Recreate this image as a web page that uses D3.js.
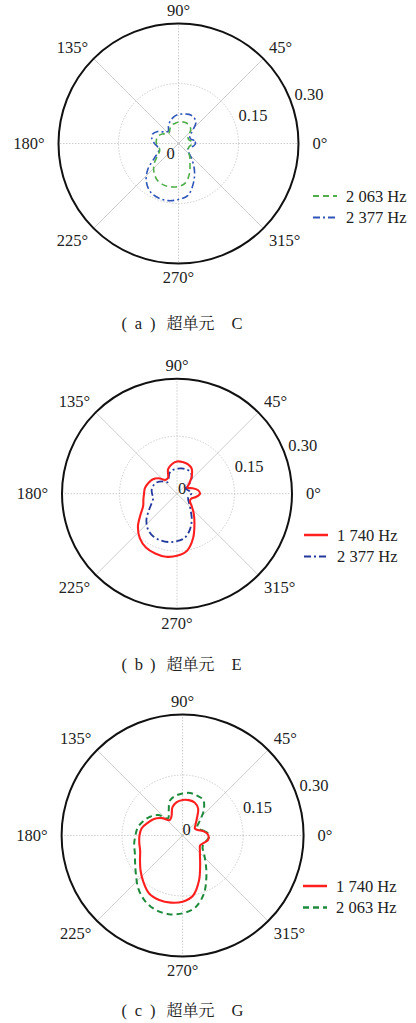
<!DOCTYPE html>
<html>
<head>
<meta charset="utf-8">
<script src="https://cdn.jsdelivr.net/npm/d3@7"></script>
<style>
  html, body { margin: 0; padding: 0; background: #fff; }
  svg { display: block; }
</style>
</head>
<body>
<svg id="chart" width="416" height="1023"></svg>
<script>
// ---------- data ----------
const angles = [0,10,20,30,40,50,60,70,80,90,100,110,120,130,140,150,160,170,
                180,190,200,210,220,230,240,250,260,270,280,290,300,310,320,330,340,350];

// (a) super-cell C
const cellC_2063 = [0.035,0.0325,0.0275,0.0275,0.035,0.0475,0.0525,0.055,0.055,0.054,0.051,0.049,
                    0.0425,0.036,0.0375,0.0475,0.054,0.056,0.055,0.050,0.050,0.060,0.080,0.095,
                    0.106,0.110,0.110,0.1075,0.100,0.080,0.0575,0.044,0.0325,0.0275,0.0275,0.030];
const cellC_2377 = [0.0425,0.040,0.0325,0.0325,0.0425,0.0675,0.076,0.0775,0.075,0.0725,0.0675,0.060,
                    0.050,0.040,0.045,0.060,0.069,0.0675,0.060,0.0525,0.0525,0.0675,0.100,0.125,
                    0.140,0.145,0.145,0.140,0.1325,0.1075,0.080,0.0525,0.0325,0.0275,0.030,0.0375];
// (b) super-cell E
const cellE_1740 = [0.060,0.055,0.042,0.031,0.042,0.060,0.076,0.082,0.084,0.084,0.078,0.068,
                    0.047,0.047,0.063,0.074,0.080,0.085,0.086,0.089,0.094,0.110,0.133,0.151,
                    0.162,0.166,0.167,0.162,0.151,0.123,0.091,0.068,0.050,0.039,0.039,0.050];
const cellE_2377 = [0.037,0.034,0.029,0.027,0.044,0.060,0.067,0.068,0.067,0.065,0.063,0.057,
                    0.044,0.039,0.050,0.060,0.065,0.067,0.065,0.063,0.070,0.084,0.104,0.119,
                    0.127,0.129,0.128,0.124,0.117,0.099,0.077,0.055,0.042,0.034,0.031,0.033];
// (c) super-cell G
const cellG_1740 = [0.064,0.055,0.040,0.035,0.042,0.055,0.077,0.087,0.089,0.088,0.084,0.074,
                    0.055,0.050,0.067,0.082,0.092,0.103,0.107,0.109,0.112,0.122,0.136,0.151,
                    0.166,0.170,0.169,0.164,0.151,0.119,0.087,0.067,0.056,0.050,0.055,0.064];
const cellG_2063 = [0.067,0.057,0.045,0.042,0.055,0.082,0.102,0.105,0.107,0.104,0.100,0.092,
                    0.069,0.056,0.079,0.093,0.104,0.113,0.117,0.122,0.126,0.136,0.151,0.171,
                    0.187,0.196,0.198,0.193,0.181,0.154,0.118,0.089,0.069,0.057,0.057,0.062];

const rTicks = [0, 0.15, 0.30];
const rTickLabels = ["0", "0.15", "0.30"];
const angleTicks = [0, 45, 90, 135, 180, 225, 270, 315];
const angleTickLabels = ["0°", "45°", "90°", "135°", "180°", "225°", "270°", "315°"];

const captionLetters = ["a", "b", "c"];
const captionCells = ["C", "E", "G"];
const captionWord = "超单元";

// ---------- styles ----------
const styles = {
  green1: { color: "#4fae4a", dash: "6,4", width: 1.6 },
  blue1:  { color: "#2f55b8", dash: "7,3,2,3", width: 1.6 },
  red:    { color: "#ff1f1f", dash: null, width: 2.1 },
  blue2:  { color: "#24389c", dash: "7,3,2,3", width: 1.8 },
  green2: { color: "#1e8a3c", dash: "6,4", width: 2.0 }
};

const panels = [
  { cx: 178.5, cy: 143.5, R: 120, legX: 313, legY: 196, capY: 329, zdx: -12, zdy: 15,
    series: [ {name: "2 063 Hz", values: cellC_2063, st: styles.green1},
              {name: "2 377 Hz", values: cellC_2377, st: styles.blue1} ] },
  { cx: 177, cy: 493.7, R: 115, legX: 304, legY: 535, capY: 670, zdx: 1, zdy: 0,
    series: [ {name: "1 740 Hz", values: cellE_1740, st: styles.red},
              {name: "2 377 Hz", values: cellE_2377, st: styles.blue2} ] },
  { cx: 182.6, cy: 835.5, R: 121, legX: 303, legY: 886, capY: 1016, zdx: 0, zdy: -1,
    series: [ {name: "1 740 Hz", values: cellG_1740, st: styles.red},
              {name: "2 063 Hz", values: cellG_2063, st: styles.green2} ] }
];

const svg = d3.select("#chart");
const serif = "Liberation Serif";
const cjk = "Noto Serif CJK SC";
const textColor = "#222";
const gridColor = "#c8c8c8";
const rad = d => d * Math.PI / 180;

panels.forEach((p, i) => {
  const g = svg.append("g").attr("transform", `translate(${p.cx},${p.cy})`);
  const r = d3.scaleLinear().domain([0, 0.30]).range([0, p.R]);

  g.selectAll("circle.grid").data(rTicks.filter(t => t > 0 && t < 0.30)).join("circle")
    .attr("r", d => r(d)).attr("fill", "none")
    .attr("stroke", gridColor).attr("stroke-width", 0.9).attr("stroke-dasharray", "1.5,1.5");

  g.selectAll("line.spoke").data(angleTicks).join("line")
    .attr("x1", 0).attr("y1", 0)
    .attr("x2", d => r(0.30) * Math.cos(rad(d)))
    .attr("y2", d => -r(0.30) * Math.sin(rad(d)))
    .attr("stroke", gridColor).attr("stroke-width", 0.9)
    .attr("stroke-dasharray", d => (d % 90 === 0) ? "1.5,1.5" : null);

  g.append("circle").attr("r", r(0.30)).attr("fill", "none")
    .attr("stroke", "#111").attr("stroke-width", 2);

  const line = d3.lineRadial()
    .angle(d => rad(90 - d.a))
    .radius(d => r(d.v))
    .curve(d3.curveCatmullRomClosed.alpha(0.5));
  p.series.slice().reverse().forEach(s => {
    const pts = angles.map((a, k) => ({a: a, v: s.values[k]}));
    g.append("path").attr("d", line(pts)).attr("fill", "none")
      .attr("stroke", s.st.color).attr("stroke-width", s.st.width)
      .attr("stroke-dasharray", s.st.dash);
  });

  angleTicks.forEach((a, k) => {
    const c = Math.cos(rad(a)), sn = Math.sin(rad(a));
    const off = Math.abs(c) > 0.9 ? p.R + 14 : p.R + 8;
    const x = off * c, y = -off * sn;
    const anchor = c > 0.1 ? "start" : (c < -0.1 ? "end" : "middle");
    const dy = sn > 0.1 ? "0em" : (sn < -0.1 ? "0.72em" : "0.35em");
    g.append("text").attr("x", x).attr("y", y).attr("dy", dy)
      .attr("text-anchor", anchor)
      .attr("font-family", serif).attr("font-size", 16.5).attr("fill", textColor)
      .text(angleTickLabels[k]);
  });

  rTicks.forEach((t, k) => {
    let x, y;
    if (t === 0) { x = p.zdx; y = p.zdy; }
    else {
      x = r(t) * Math.cos(rad(21)) + 4;
      y = -r(t) * Math.sin(rad(21)) - 1;
    }
    g.append("text").attr("x", x).attr("y", y)
      .attr("font-family", serif).attr("font-size", 16.5).attr("fill", textColor)
      .text(rTickLabels[k]);
  });

  p.series.forEach((s, k) => {
    const ly = p.legY + k * 21.5;
    svg.append("line").attr("x1", p.legX).attr("x2", p.legX + 24)
      .attr("y1", ly).attr("y2", ly)
      .attr("stroke", s.st.color).attr("stroke-width", s.st.width + 0.4)
      .attr("stroke-dasharray", s.st.dash);
    svg.append("text").attr("x", p.legX + 33).attr("y", ly).attr("dy", "0.35em")
      .attr("font-family", serif).attr("font-size", 16.5).attr("fill", textColor)
      .text(s.name);
  });

  const cap = svg.append("text").attr("y", p.capY)
    .attr("font-family", serif).attr("font-size", 16.5).attr("fill", textColor);
  const x0 = 121.5;
  cap.append("tspan").attr("x", x0).text("(");
  cap.append("tspan").attr("x", x0 + 13.3).text(captionLetters[i]);
  cap.append("tspan").attr("x", x0 + 28.5).text(")");
  cap.append("tspan").attr("x", x0 + 45).attr("font-family", cjk)
    .attr("font-size", 16).text(captionWord);
  cap.append("tspan").attr("x", x0 + 110).text(captionCells[i]);
});
</script>
</body>
</html>
